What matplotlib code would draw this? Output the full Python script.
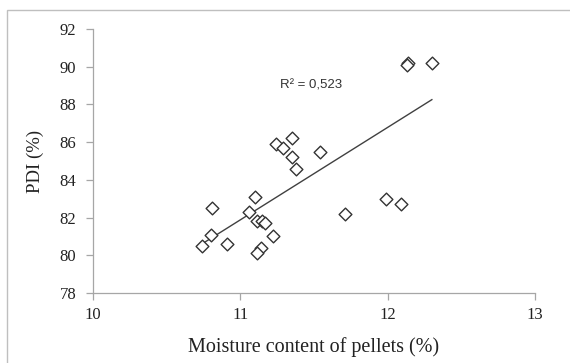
import numpy as np
import matplotlib
matplotlib.use("Agg")
import matplotlib.pyplot as plt
from matplotlib.patches import Rectangle

# moisture content (%) and pellet durability index (%)
moisture = [10.74, 10.80, 10.81, 10.91, 11.06, 11.10, 11.11, 11.15, 11.17, 11.22,
            11.14, 11.11, 11.24, 11.29, 11.35, 11.35, 11.38, 11.54, 11.71, 11.99,
            12.09, 12.14, 12.13, 12.30]
pdi = [80.5, 81.1, 82.5, 80.6, 82.3, 83.1, 81.8, 81.8, 81.7, 81.0,
       80.4, 80.1, 85.9, 85.7, 86.2, 85.2, 84.6, 85.5, 82.2, 83.0,
       82.7, 90.2, 90.1, 90.2]
r2_text = "R² = 0,523"

x_ticks = [10, 11, 12, 13]
y_ticks = [78, 80, 82, 84, 86, 88, 90, 92]

serif = "Liberation Serif"
grey = "#a6a6a6"

fig = plt.figure(figsize=(5.7, 3.63), dpi=100)
ax = fig.add_axes([93 / 570, 1 - 293 / 363, 442 / 570, 264 / 363])

ax.scatter(moisture, pdi, marker="D", s=42, facecolors="white",
           edgecolors="#333333", linewidths=1.0, zorder=3)

# linear trend over the data range
k, b = np.polyfit(moisture, pdi, 1)
xs = np.array([min(moisture), max(moisture)])
ax.plot(xs, k * xs + b, color="#404040", lw=1.0, zorder=2)

ax.text(11.27, 88.85, r2_text, fontsize=9.5, family="Liberation Sans",
        color="#333333")

ax.set_xlim(10, 13)
ax.set_ylim(78, 92)
ax.set_xticks(x_ticks)
ax.set_yticks(y_ticks)
for lbl in ax.get_xticklabels() + ax.get_yticklabels():
    lbl.set_family(serif)
    lbl.set_fontsize(12)
    lbl.set_color("#222222")

for side in ["top", "right"]:
    ax.spines[side].set_visible(False)
for side in ["left", "bottom"]:
    ax.spines[side].set_color(grey)
    ax.spines[side].set_linewidth(0.9)
ax.tick_params(direction="out", length=5, width=0.9, color=grey)
ax.tick_params(axis="x", pad=5)
ax.tick_params(axis="y", pad=7)

ax.set_xlabel("Moisture content of pellets (%)", family=serif, fontsize=14.5,
              color="#222222", labelpad=10)
ax.set_ylabel("PDI (%)", family=serif, fontsize=13.5, color="#222222", labelpad=11)

# outer frame of the chart area
fig.patches.append(Rectangle((7 / 570, -0.2), 1.5, 1.2 - 10 / 363,
                             transform=fig.transFigure, fill=False,
                             edgecolor="#bfbfbf", lw=1.0))

fig.savefig("out.png", dpi=100)
